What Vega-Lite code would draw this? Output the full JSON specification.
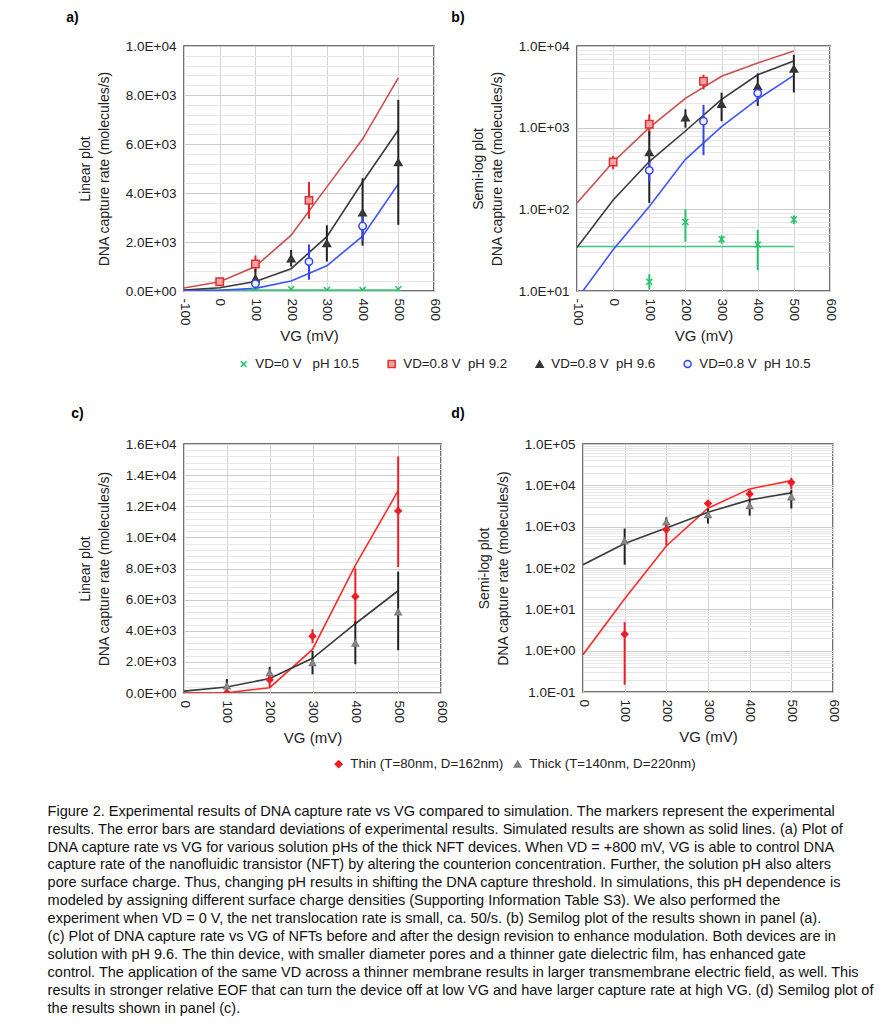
{
  "$schema": "https://vega.github.io/schema/vega-lite/v6.json",
  "padding": {"left": 47, "top": 10, "right": 5, "bottom": 2},
  "background": "white",
  "config": {
    "view": {"stroke": "#444444", "strokeWidth": 1.5},
    "axis": {"labelFont": "Liberation Sans", "titleFont": "Liberation Sans", "labelColor": "#222222", "titleColor": "#222222", "titleFontWeight": "normal", "tickCount": 100},
    "legend": {"labelFont": "Liberation Sans", "labelColor": "#222222", "labelLimit": 300}
  },
  "datasets": {
    "sim1": [
      {"series": "VD=0 V\u00a0\u00a0\u00a0pH 10.5", "vg": -100, "rate": 35},
      {"series": "VD=0 V\u00a0\u00a0\u00a0pH 10.5", "vg": 500, "rate": 35},
      {"series": "VD=0.8 V\u00a0\u00a0pH 9.2", "vg": -100, "rate": 120},
      {"series": "VD=0.8 V\u00a0\u00a0pH 9.2", "vg": 0, "rate": 380},
      {"series": "VD=0.8 V\u00a0\u00a0pH 9.2", "vg": 100, "rate": 1000},
      {"series": "VD=0.8 V\u00a0\u00a0pH 9.2", "vg": 200, "rate": 2280},
      {"series": "VD=0.8 V\u00a0\u00a0pH 9.2", "vg": 300, "rate": 4250},
      {"series": "VD=0.8 V\u00a0\u00a0pH 9.2", "vg": 400, "rate": 6200},
      {"series": "VD=0.8 V\u00a0\u00a0pH 9.2", "vg": 500, "rate": 8700},
      {"series": "VD=0.8 V\u00a0\u00a0pH 9.6", "vg": -100, "rate": 34},
      {"series": "VD=0.8 V\u00a0\u00a0pH 9.6", "vg": 0, "rate": 130},
      {"series": "VD=0.8 V\u00a0\u00a0pH 9.6", "vg": 100, "rate": 385},
      {"series": "VD=0.8 V\u00a0\u00a0pH 9.6", "vg": 200, "rate": 910},
      {"series": "VD=0.8 V\u00a0\u00a0pH 9.6", "vg": 300, "rate": 2220},
      {"series": "VD=0.8 V\u00a0\u00a0pH 9.6", "vg": 400, "rate": 4450},
      {"series": "VD=0.8 V\u00a0\u00a0pH 9.6", "vg": 500, "rate": 6570},
      {"series": "VD=0.8 V\u00a0\u00a0pH 10.5", "vg": -100, "rate": 8},
      {"series": "VD=0.8 V\u00a0\u00a0pH 10.5", "vg": 0, "rate": 32},
      {"series": "VD=0.8 V\u00a0\u00a0pH 10.5", "vg": 100, "rate": 108},
      {"series": "VD=0.8 V\u00a0\u00a0pH 10.5", "vg": 200, "rate": 410},
      {"series": "VD=0.8 V\u00a0\u00a0pH 10.5", "vg": 300, "rate": 1030},
      {"series": "VD=0.8 V\u00a0\u00a0pH 10.5", "vg": 400, "rate": 2240},
      {"series": "VD=0.8 V\u00a0\u00a0pH 10.5", "vg": 500, "rate": 4370}
    ],
    "exp1": [
      {"series": "VD=0 V\u00a0\u00a0\u00a0pH 10.5", "vg": 100, "rate": 13, "lo": 10.5, "hi": 16},
      {"series": "VD=0 V\u00a0\u00a0\u00a0pH 10.5", "vg": 200, "rate": 70, "lo": 40, "hi": 100},
      {"series": "VD=0 V\u00a0\u00a0\u00a0pH 10.5", "vg": 300, "rate": 43, "lo": 38, "hi": 48},
      {"series": "VD=0 V\u00a0\u00a0\u00a0pH 10.5", "vg": 400, "rate": 37, "lo": 18, "hi": 56},
      {"series": "VD=0 V\u00a0\u00a0\u00a0pH 10.5", "vg": 500, "rate": 75, "lo": 66, "hi": 84},
      {"series": "VD=0.8 V\u00a0\u00a0pH 9.2", "vg": 0, "rate": 380, "lo": 310, "hi": 450},
      {"series": "VD=0.8 V\u00a0\u00a0pH 9.2", "vg": 100, "rate": 1100, "lo": 800, "hi": 1450},
      {"series": "VD=0.8 V\u00a0\u00a0pH 9.2", "vg": 250, "rate": 3700, "lo": 2950, "hi": 4450},
      {"series": "VD=0.8 V\u00a0\u00a0pH 9.6", "vg": 100, "rate": 500, "lo": 120, "hi": 900},
      {"series": "VD=0.8 V\u00a0\u00a0pH 9.6", "vg": 200, "rate": 1330, "lo": 1000, "hi": 1680},
      {"series": "VD=0.8 V\u00a0\u00a0pH 9.6", "vg": 300, "rate": 1950, "lo": 1200, "hi": 2680},
      {"series": "VD=0.8 V\u00a0\u00a0pH 9.6", "vg": 400, "rate": 3200, "lo": 1850, "hi": 4600},
      {"series": "VD=0.8 V\u00a0\u00a0pH 9.6", "vg": 500, "rate": 5250, "lo": 2700, "hi": 7800},
      {"series": "VD=0.8 V\u00a0\u00a0pH 10.5", "vg": 100, "rate": 300, "lo": 220, "hi": 380},
      {"series": "VD=0.8 V\u00a0\u00a0pH 10.5", "vg": 250, "rate": 1200, "lo": 460, "hi": 1900},
      {"series": "VD=0.8 V\u00a0\u00a0pH 10.5", "vg": 400, "rate": 2650, "lo": 2050, "hi": 3200}
    ],
    "sim2": [
      {"series": "Thin (T=80nm, D=162nm)", "vg": 0, "rate": 0.8},
      {"series": "Thin (T=80nm, D=162nm)", "vg": 100, "rate": 18},
      {"series": "Thin (T=80nm, D=162nm)", "vg": 200, "rate": 340},
      {"series": "Thin (T=80nm, D=162nm)", "vg": 300, "rate": 2800},
      {"series": "Thin (T=80nm, D=162nm)", "vg": 400, "rate": 8200},
      {"series": "Thin (T=80nm, D=162nm)", "vg": 500, "rate": 13000},
      {"series": "Thick (T=140nm, D=220nm)", "vg": 0, "rate": 120},
      {"series": "Thick (T=140nm, D=220nm)", "vg": 100, "rate": 390},
      {"series": "Thick (T=140nm, D=220nm)", "vg": 200, "rate": 930},
      {"series": "Thick (T=140nm, D=220nm)", "vg": 300, "rate": 2230},
      {"series": "Thick (T=140nm, D=220nm)", "vg": 400, "rate": 4450},
      {"series": "Thick (T=140nm, D=220nm)", "vg": 500, "rate": 6570}
    ],
    "exp2": [
      {"series": "Thin (T=80nm, D=162nm)", "vg": 100, "rate": 2.5, "lo": 0.15, "hi": 4.9},
      {"series": "Thin (T=80nm, D=162nm)", "vg": 200, "rate": 850, "lo": 350, "hi": 1350},
      {"series": "Thin (T=80nm, D=162nm)", "vg": 300, "rate": 3650, "lo": 3200, "hi": 4100},
      {"series": "Thin (T=80nm, D=162nm)", "vg": 400, "rate": 6200, "lo": 4450, "hi": 8000},
      {"series": "Thin (T=80nm, D=162nm)", "vg": 500, "rate": 11700, "lo": 8100, "hi": 15200},
      {"series": "Thick (T=140nm, D=220nm)", "vg": 100, "rate": 450, "lo": 120, "hi": 900},
      {"series": "Thick (T=140nm, D=220nm)", "vg": 200, "rate": 1300, "lo": 1000, "hi": 1680},
      {"series": "Thick (T=140nm, D=220nm)", "vg": 300, "rate": 1950, "lo": 1200, "hi": 2700},
      {"series": "Thick (T=140nm, D=220nm)", "vg": 400, "rate": 3200, "lo": 1850, "hi": 4600},
      {"series": "Thick (T=140nm, D=220nm)", "vg": 500, "rate": 5200, "lo": 2750, "hi": 7800}
    ]
  },
  "title": {
    "text": [
      "Figure 2.  Experimental results of DNA capture rate vs VG compared to simulation. The markers represent the experimental",
      "results. The error bars are standard deviations of experimental results. Simulated results are shown as solid lines. (a) Plot of",
      "DNA capture rate vs VG for various solution pHs of the thick NFT devices. When VD = +800 mV, VG is able to control DNA",
      "capture rate of the nanofluidic transistor (NFT) by altering the counterion concentration. Further, the solution pH also alters",
      "pore surface charge. Thus, changing pH results in shifting the DNA capture threshold. In simulations, this pH dependence is",
      "modeled by assigning different surface charge densities (Supporting Information Table S3). We also performed the",
      "experiment when VD = 0 V, the net translocation rate is small, ca. 50/s. (b) Semilog plot of the results shown in panel (a).",
      "(c) Plot of DNA capture rate vs VG of NFTs before and after the design revision to enhance modulation. Both devices are in",
      "solution with pH 9.6. The thin device, with smaller diameter pores and a thinner gate dielectric film, has enhanced gate",
      "control. The application of the same VD across a thinner membrane results in larger transmembrane electric field, as well. This",
      "results in stronger relative EOF that can turn the device off at low VG and have larger capture rate at high VG. (d) Semilog plot of",
      "the results shown in panel (c)."
    ],
    "orient": "bottom",
    "anchor": "start",
    "dx": -18,
    "offset": 33,
    "font": "Liberation Sans",
    "fontSize": 14.5,
    "fontWeight": "normal",
    "lineHeight": 17.9,
    "color": "#111111"
  },
  "spacing": 34,
  "resolve": {"scale": {"shape": "independent", "stroke": "independent", "fill": "independent", "color": "independent"}, "legend": {"shape": "independent", "stroke": "independent", "fill": "independent"}},
  "vconcat": [
    {
      "hconcat": [
        {
          "width": 250, "height": 245,
          "title": {"text": "a)", "anchor": "start", "dx": -12, "offset": 14, "fontSize": 14, "fontWeight": "bold", "font": "Liberation Sans"},
          "resolve": {"scale": {"color": "independent"}},
          "layer": [
            {
              "data": {"name": "sim1"},
              "mark": {"type": "line", "strokeWidth": 1.6, "clip": true},
              "encoding": {
                "x": {"field": "vg", "type": "quantitative", "scale": {"domain": [-100, 600], "nice": false, "zero": false},
                  "axis": {"title": "VG (mV)", "values": [-100, 0, 100, 200, 300, 400, 500, 600], "tickCount": 100, "labelAngle": 90, "labelExpr": "datum.value < 0 ? '-' + abs(datum.value) : '' + datum.value", "labelFlush": false, "labelOverlap": false, "grid": true, "gridColor": "#d4d4d4", "ticks": false, "domain": false, "labelPadding": 7, "titlePadding": 3, "labelFontSize": 13.5, "titleFontSize": 15}},
                "y": {"field": "rate", "type": "quantitative", "scale": {"domain": [0, 10000], "nice": false},
                  "axis": {"title": ["Linear plot", "DNA capture rate (molecules/s)"], "values": [0,400,800,1200,1600,2000,2400,2800,3200,3600,4000,4400,4800,5200,5600,6000,6400,6800,7200,7600,8000,8400,8800,9200,9600,10000], "tickCount": 100, "labelExpr": "datum.value % 2000 == 0 ? (datum.value == 0 ? '0.0E+00' : format(datum.value / pow(10, floor(log(datum.value) / LN10 + 1e-6)), '.1f') + 'E+0' + floor(log(datum.value) / LN10 + 1e-6)) : ''", "labelOverlap": false, "labelFlush": false, "grid": true, "gridColor": {"condition": {"test": "datum.value % 2000 == 0", "value": "#cccccc"}, "value": "#e6e6e6"}, "ticks": false, "domain": false, "labelPadding": 8, "titlePadding": 14, "labelFontSize": 13.5, "titleFontSize": 14, "titleLineHeight": 19}},
                "color": {"field": "series", "type": "nominal", "scale": {"domain": ["VD=0 V\u00a0\u00a0\u00a0pH 10.5", "VD=0.8 V\u00a0\u00a0pH 9.2", "VD=0.8 V\u00a0\u00a0pH 9.6", "VD=0.8 V\u00a0\u00a0pH 10.5"], "range": ["#3cc47c", "#c8504e", "#3a3a3a", "#3f55ff"]}, "legend": null}
              }
            },
            {
              "data": {"name": "exp1"},
              "mark": {"type": "rule", "strokeWidth": 2, "clip": true},
              "encoding": {
                "x": {"field": "vg", "type": "quantitative"},
                "y": {"field": "lo", "type": "quantitative"},
                "y2": {"field": "hi"},
                "color": {"field": "series", "type": "nominal", "scale": {"domain": ["VD=0 V\u00a0\u00a0\u00a0pH 10.5", "VD=0.8 V\u00a0\u00a0pH 9.2", "VD=0.8 V\u00a0\u00a0pH 9.6", "VD=0.8 V\u00a0\u00a0pH 10.5"], "range": ["#22c466", "#e8262a", "#222222", "#3344ee"]}, "legend": null}
              }
            },
            {
              "data": {"name": "exp1"},
              "mark": {"type": "point", "size": 55, "strokeWidth": 1.5, "opacity": 1, "filled": true, "clip": true},
              "encoding": {
                "x": {"field": "vg", "type": "quantitative"},
                "y": {"field": "rate", "type": "quantitative"},
                "shape": {"field": "series", "type": "nominal", "scale": {"domain": ["VD=0 V\u00a0\u00a0\u00a0pH 10.5", "VD=0.8 V\u00a0\u00a0pH 9.2", "VD=0.8 V\u00a0\u00a0pH 9.6", "VD=0.8 V\u00a0\u00a0pH 10.5"], "range": ["M-0.8,-0.8L0.8,0.8M-0.8,0.8L0.8,-0.8", "square", "triangle-up", "circle"]},
                  "legend": {"orient": "none", "legendX": 53, "legendY": 311, "direction": "horizontal", "title": null, "labelFontSize": 13.3, "symbolSize": 50, "symbolStrokeWidth": 1.5, "columnPadding": 18, "gridAlign": "all", "labelOffset": 5}},
                "stroke": {"field": "series", "type": "nominal", "scale": {"domain": ["VD=0 V\u00a0\u00a0\u00a0pH 10.5", "VD=0.8 V\u00a0\u00a0pH 9.2", "VD=0.8 V\u00a0\u00a0pH 9.6", "VD=0.8 V\u00a0\u00a0pH 10.5"], "range": ["#22c466", "#e03030", "#333333", "#3344ee"]},
                  "legend": {"orient": "none", "legendX": 53, "legendY": 311, "direction": "horizontal", "title": null, "labelFontSize": 13.3, "symbolSize": 50, "symbolStrokeWidth": 1.5, "columnPadding": 18, "gridAlign": "all", "labelOffset": 5}},
                "fill": {"field": "series", "type": "nominal", "scale": {"domain": ["VD=0 V\u00a0\u00a0\u00a0pH 10.5", "VD=0.8 V\u00a0\u00a0pH 9.2", "VD=0.8 V\u00a0\u00a0pH 9.6", "VD=0.8 V\u00a0\u00a0pH 10.5"], "range": ["#22c466", "#f2a3a3", "#3a3a3a", "#eef0ff"]},
                  "legend": {"orient": "none", "legendX": 53, "legendY": 311, "direction": "horizontal", "title": null, "labelFontSize": 13.3, "symbolSize": 50, "symbolStrokeWidth": 1.5, "columnPadding": 18, "gridAlign": "all", "labelOffset": 5}}
              }
            }
          ]
        },
        {
          "width": 253, "height": 245,
          "title": {"text": "b)", "anchor": "start", "dx": -20, "offset": 14, "fontSize": 14, "fontWeight": "bold", "font": "Liberation Sans"},
          "resolve": {"scale": {"color": "independent"}},
          "layer": [
            {
              "data": {"name": "sim1"},
              "mark": {"type": "line", "strokeWidth": 1.6, "clip": true},
              "encoding": {
                "x": {"field": "vg", "type": "quantitative", "scale": {"domain": [-100, 600], "nice": false, "zero": false},
                  "axis": {"title": "VG (mV)", "values": [-100, 0, 100, 200, 300, 400, 500, 600], "tickCount": 100, "labelAngle": 90, "labelExpr": "datum.value < 0 ? '-' + abs(datum.value) : '' + datum.value", "labelFlush": false, "labelOverlap": false, "grid": true, "gridColor": "#d4d4d4", "ticks": false, "domain": false, "labelPadding": 7, "titlePadding": 3, "labelFontSize": 13.5, "titleFontSize": 15}},
                "y": {"field": "rate", "type": "quantitative", "scale": {"type": "log", "domain": [10, 10000], "nice": false},
                  "axis": {"title": ["Semi-log plot", "DNA capture rate (molecules/s)"], "values": [10,20,30,40,50,60,70,80,90,100,200,300,400,500,600,700,800,900,1000,2000,3000,4000,5000,6000,7000,8000,9000,10000], "tickCount": 100, "labelExpr": "abs(log(datum.value) / LN10 - round(log(datum.value) / LN10)) < 1e-6 ? '1.0E' + (round(log(datum.value) / LN10) < 0 ? '-0' : '+0') + abs(round(log(datum.value) / LN10)) : ''", "labelOverlap": false, "labelFlush": false, "grid": true, "gridColor": {"condition": {"test": "abs(log(datum.value) / LN10 - round(log(datum.value) / LN10)) < 1e-6", "value": "#cccccc"}, "value": "#e6e6e6"}, "ticks": false, "domain": false, "labelPadding": 8, "titlePadding": 14, "labelFontSize": 13.5, "titleFontSize": 14, "titleLineHeight": 19}},
                "color": {"field": "series", "type": "nominal", "scale": {"domain": ["VD=0 V\u00a0\u00a0\u00a0pH 10.5", "VD=0.8 V\u00a0\u00a0pH 9.2", "VD=0.8 V\u00a0\u00a0pH 9.6", "VD=0.8 V\u00a0\u00a0pH 10.5"], "range": ["#3cc47c", "#c8504e", "#3a3a3a", "#3f55ff"]}, "legend": null}
              }
            },
            {
              "data": {"name": "exp1"},
              "mark": {"type": "rule", "strokeWidth": 2, "clip": true},
              "encoding": {
                "x": {"field": "vg", "type": "quantitative"},
                "y": {"field": "lo", "type": "quantitative"},
                "y2": {"field": "hi"},
                "color": {"field": "series", "type": "nominal", "scale": {"domain": ["VD=0 V\u00a0\u00a0\u00a0pH 10.5", "VD=0.8 V\u00a0\u00a0pH 9.2", "VD=0.8 V\u00a0\u00a0pH 9.6", "VD=0.8 V\u00a0\u00a0pH 10.5"], "range": ["#22c466", "#e8262a", "#222222", "#3344ee"]}, "legend": null}
              }
            },
            {
              "data": {"name": "exp1"},
              "mark": {"type": "point", "size": 55, "strokeWidth": 1.5, "opacity": 1, "filled": true, "clip": true},
              "encoding": {
                "x": {"field": "vg", "type": "quantitative"},
                "y": {"field": "rate", "type": "quantitative"},
                "shape": {"field": "series", "type": "nominal", "scale": {"domain": ["VD=0 V\u00a0\u00a0\u00a0pH 10.5", "VD=0.8 V\u00a0\u00a0pH 9.2", "VD=0.8 V\u00a0\u00a0pH 9.6", "VD=0.8 V\u00a0\u00a0pH 10.5"], "range": ["M-0.8,-0.8L0.8,0.8M-0.8,0.8L0.8,-0.8", "square", "triangle-up", "circle"]}, "legend": null},
                "stroke": {"field": "series", "type": "nominal", "scale": {"domain": ["VD=0 V\u00a0\u00a0\u00a0pH 10.5", "VD=0.8 V\u00a0\u00a0pH 9.2", "VD=0.8 V\u00a0\u00a0pH 9.6", "VD=0.8 V\u00a0\u00a0pH 10.5"], "range": ["#22c466", "#e03030", "#333333", "#3344ee"]}, "legend": null},
                "fill": {"field": "series", "type": "nominal", "scale": {"domain": ["VD=0 V\u00a0\u00a0\u00a0pH 10.5", "VD=0.8 V\u00a0\u00a0pH 9.2", "VD=0.8 V\u00a0\u00a0pH 9.6", "VD=0.8 V\u00a0\u00a0pH 10.5"], "range": ["#22c466", "#f2a3a3", "#3a3a3a", "#eef0ff"]}, "legend": null}
              }
            }
          ]
        }
      ],
      "bounds": "flush",
      "spacing": 143,
      "resolve": {"scale": {"shape": "independent", "stroke": "independent", "fill": "independent", "color": "independent"}, "legend": {"shape": "independent", "stroke": "independent", "fill": "independent"}}
    },
    {
      "hconcat": [
        {
          "width": 257, "height": 249,
          "title": {"text": "c)", "anchor": "start", "dx": -7, "offset": 16, "fontSize": 14, "fontWeight": "bold", "font": "Liberation Sans"},
          "resolve": {"scale": {"color": "independent"}},
          "layer": [
            {
              "data": {"name": "sim2"},
              "mark": {"type": "line", "strokeWidth": 1.6, "clip": true},
              "encoding": {
                "x": {"field": "vg", "type": "quantitative", "scale": {"domain": [0, 600], "nice": false, "zero": false},
                  "axis": {"title": "VG (mV)", "values": [0, 100, 200, 300, 400, 500, 600], "tickCount": 100, "labelAngle": 90, "labelFlush": false, "labelOverlap": false, "grid": true, "gridColor": "#d4d4d4", "ticks": false, "domain": false, "labelPadding": 7, "titlePadding": 8, "labelFontSize": 13.5, "titleFontSize": 15}},
                "y": {"field": "rate", "type": "quantitative", "scale": {"domain": [0, 16000], "nice": false},
                  "axis": {"title": ["Linear plot", "DNA capture rate (molecules/s)"], "values": [0,400,800,1200,1600,2000,2400,2800,3200,3600,4000,4400,4800,5200,5600,6000,6400,6800,7200,7600,8000,8400,8800,9200,9600,10000,10400,10800,11200,11600,12000,12400,12800,13200,13600,14000,14400,14800,15200,15600,16000], "tickCount": 100, "labelExpr": "datum.value % 2000 == 0 ? (datum.value == 0 ? '0.0E+00' : format(datum.value / pow(10, floor(log(datum.value) / LN10 + 1e-6)), '.1f') + 'E+0' + floor(log(datum.value) / LN10 + 1e-6)) : ''", "labelOverlap": false, "labelFlush": false, "grid": true, "gridColor": {"condition": {"test": "datum.value % 2000 == 0", "value": "#cccccc"}, "value": "#e6e6e6"}, "ticks": false, "domain": false, "labelPadding": 8, "titlePadding": 14, "labelFontSize": 13.5, "titleFontSize": 14, "titleLineHeight": 19}},
                "color": {"field": "series", "type": "nominal", "scale": {"domain": ["Thin (T=80nm, D=162nm)", "Thick (T=140nm, D=220nm)"], "range": ["#ff2a2a", "#3a3a3a"]}, "legend": null}
              }
            },
            {
              "data": {"name": "exp2"},
              "mark": {"type": "rule", "strokeWidth": 2, "clip": true},
              "encoding": {
                "x": {"field": "vg", "type": "quantitative"},
                "y": {"field": "lo", "type": "quantitative"},
                "y2": {"field": "hi"},
                "color": {"field": "series", "type": "nominal", "scale": {"domain": ["Thin (T=80nm, D=162nm)", "Thick (T=140nm, D=220nm)"], "range": ["#ee1c24", "#222222"]}, "legend": null}
              }
            },
            {
              "data": {"name": "exp2"},
              "mark": {"type": "point", "size": 45, "strokeWidth": 1.2, "opacity": 1, "filled": true, "clip": true},
              "encoding": {
                "x": {"field": "vg", "type": "quantitative"},
                "y": {"field": "rate", "type": "quantitative"},
                "shape": {"field": "series", "type": "nominal", "scale": {"domain": ["Thin (T=80nm, D=162nm)", "Thick (T=140nm, D=220nm)"], "range": ["diamond", "triangle-up"]},
                  "legend": {"orient": "none", "legendX": 148, "legendY": 313, "direction": "horizontal", "title": null, "labelFontSize": 13.3, "symbolSize": 45, "columnPadding": 7, "labelOffset": 5}},
                "stroke": {"field": "series", "type": "nominal", "scale": {"domain": ["Thin (T=80nm, D=162nm)", "Thick (T=140nm, D=220nm)"], "range": ["#ee1c24", "#7a7a7a"]},
                  "legend": {"orient": "none", "legendX": 148, "legendY": 313, "direction": "horizontal", "title": null, "labelFontSize": 13.3, "symbolSize": 45, "columnPadding": 7, "labelOffset": 5}},
                "fill": {"field": "series", "type": "nominal", "scale": {"domain": ["Thin (T=80nm, D=162nm)", "Thick (T=140nm, D=220nm)"], "range": ["#ee1c24", "#8c8c8c"]},
                  "legend": {"orient": "none", "legendX": 148, "legendY": 313, "direction": "horizontal", "title": null, "labelFontSize": 13.3, "symbolSize": 45, "columnPadding": 7, "labelOffset": 5}}
              }
            }
          ]
        },
        {
          "width": 250, "height": 248,
          "title": {"text": "d)", "anchor": "start", "dx": -26, "offset": 16, "fontSize": 14, "fontWeight": "bold", "font": "Liberation Sans"},
          "resolve": {"scale": {"color": "independent"}},
          "layer": [
            {
              "data": {"name": "sim2"},
              "mark": {"type": "line", "strokeWidth": 1.6, "clip": true},
              "encoding": {
                "x": {"field": "vg", "type": "quantitative", "scale": {"domain": [0, 600], "nice": false, "zero": false},
                  "axis": {"title": "VG (mV)", "values": [0, 100, 200, 300, 400, 500, 600], "tickCount": 100, "labelAngle": 90, "labelFlush": false, "labelOverlap": false, "grid": true, "gridColor": "#d4d4d4", "ticks": false, "domain": false, "labelPadding": 7, "titlePadding": 8, "labelFontSize": 13.5, "titleFontSize": 15}},
                "y": {"field": "rate", "type": "quantitative", "scale": {"type": "log", "domain": [0.1, 100000], "nice": false},
                  "axis": {"title": ["Semi-log plot", "DNA capture rate (molecules/s)"], "values": [0.1,0.2,0.3,0.4,0.5,0.6,0.7,0.8,0.9,1,2,3,4,5,6,7,8,9,10,20,30,40,50,60,70,80,90,100,200,300,400,500,600,700,800,900,1000,2000,3000,4000,5000,6000,7000,8000,9000,10000,20000,30000,40000,50000,60000,70000,80000,90000,100000], "tickCount": 100, "labelExpr": "abs(log(datum.value) / LN10 - round(log(datum.value) / LN10)) < 1e-6 ? '1.0E' + (round(log(datum.value) / LN10) < 0 ? '-0' : '+0') + abs(round(log(datum.value) / LN10)) : ''", "labelOverlap": false, "labelFlush": false, "grid": true, "gridColor": {"condition": {"test": "abs(log(datum.value) / LN10 - round(log(datum.value) / LN10)) < 1e-6", "value": "#cccccc"}, "value": "#e6e6e6"}, "ticks": false, "domain": false, "labelPadding": 8, "titlePadding": 14, "labelFontSize": 13.5, "titleFontSize": 14, "titleLineHeight": 19}},
                "color": {"field": "series", "type": "nominal", "scale": {"domain": ["Thin (T=80nm, D=162nm)", "Thick (T=140nm, D=220nm)"], "range": ["#ff2a2a", "#3a3a3a"]}, "legend": null}
              }
            },
            {
              "data": {"name": "exp2"},
              "mark": {"type": "rule", "strokeWidth": 2, "clip": true},
              "encoding": {
                "x": {"field": "vg", "type": "quantitative"},
                "y": {"field": "lo", "type": "quantitative"},
                "y2": {"field": "hi"},
                "color": {"field": "series", "type": "nominal", "scale": {"domain": ["Thin (T=80nm, D=162nm)", "Thick (T=140nm, D=220nm)"], "range": ["#ee1c24", "#222222"]}, "legend": null}
              }
            },
            {
              "data": {"name": "exp2"},
              "mark": {"type": "point", "size": 45, "strokeWidth": 1.2, "opacity": 1, "filled": true, "clip": true},
              "encoding": {
                "x": {"field": "vg", "type": "quantitative"},
                "y": {"field": "rate", "type": "quantitative"},
                "shape": {"field": "series", "type": "nominal", "scale": {"domain": ["Thin (T=80nm, D=162nm)", "Thick (T=140nm, D=220nm)"], "range": ["diamond", "triangle-up"]}, "legend": null},
                "stroke": {"field": "series", "type": "nominal", "scale": {"domain": ["Thin (T=80nm, D=162nm)", "Thick (T=140nm, D=220nm)"], "range": ["#ee1c24", "#7a7a7a"]}, "legend": null},
                "fill": {"field": "series", "type": "nominal", "scale": {"domain": ["Thin (T=80nm, D=162nm)", "Thick (T=140nm, D=220nm)"], "range": ["#ee1c24", "#8c8c8c"]}, "legend": null}
              }
            }
          ]
        }
      ],
      "bounds": "flush",
      "spacing": 142,
      "resolve": {"scale": {"shape": "independent", "stroke": "independent", "fill": "independent", "color": "independent"}, "legend": {"shape": "independent", "stroke": "independent", "fill": "independent"}}
    }
  ]
}
